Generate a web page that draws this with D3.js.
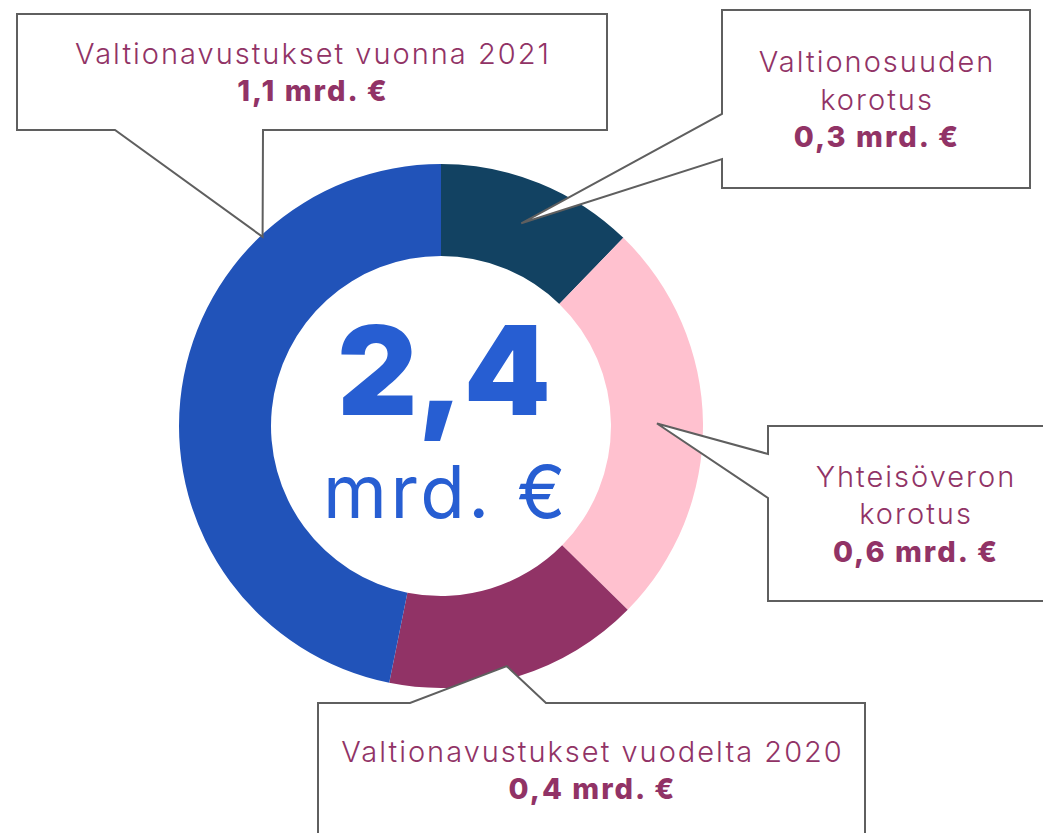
<!DOCTYPE html>
<html>
<head>
<meta charset="utf-8">
<script src="https://cdn.jsdelivr.net/npm/d3@7"></script>
<style>
    body { margin: 0; background: #fff; }
    svg { display: block; font-family: Inter, "Open Sans", sans-serif; }
</style>
</head>
<body>
<div id="donut-area"></div>
<script>

// Slices clockwise from 12 o'clock
var categories = ["Valtionosuuden korotus", "Yhteisöveron korotus", "Valtionavustukset vuodelta 2020", "Valtionavustukset vuonna 2021"];
var labelLines = [["Valtionosuuden", "korotus"], ["Yhteisöveron", "korotus"], ["Valtionavustukset vuodelta 2020"], ["Valtionavustukset vuonna 2021"]];
var values = [0.294, 0.603, 0.379, 1.124];   // mrd. €
var sliceColors = ["#124262", "#FFC1CF", "#913366", "#2153B9"];
var unitLabel = "mrd. €";


/*
 * DonutChart - Object constructor function
 */

DonutChart = function(_parentElement, _data){
    this.parentElement = _parentElement;
    this.data = _data;
    this.displayData = [];

    this.initVis();
}

DonutChart.prototype.initVis = function(){
    var vis = this;

    vis.width = 1043;
    vis.height = 833;
    vis.cx = 441;
    vis.cy = 426;

    vis.svg = d3.select("#" + vis.parentElement).append("svg")
        .attr("width", vis.width)
        .attr("height", vis.height);

    vis.chart = vis.svg.append("g")
        .attr("transform", "translate(" + vis.cx + "," + vis.cy + ")");

    vis.pie = d3.pie()
        .sort(null)
        .value(function(d) { return d.value; });

    vis.arc = d3.arc()
        .innerRadius(170)
        .outerRadius(262);

    // finnish number format, 1 decimal
    vis.fmt = d3.formatLocale({ decimal: ",", thousands: "\u00a0", grouping: [3], currency: ["", " €"] }).format(".1f");

    // callout boxes, same order as the slices
    vis.callouts = [
        { box: [722, 10, 1030, 188], side: "left", joins: [114, 159], tipFrac: 0.49, tipR: 218 },
        { box: [768, 426, 1062, 601], side: "left", joins: [454, 498], tipFrac: 0.5, tipR: 216 },
        { box: [318, 703, 865, 837], side: "top", joins: [410, 546], tipFrac: 0.53, tipR: 249 },
        { box: [17, 14, 607, 130], side: "bottom", joins: [115, 263], tipFrac: 0.743, tipR: 260 }
    ];

    vis.wrangleData();
}

DonutChart.prototype.wrangleData = function(){
    var vis = this;

    vis.displayData = vis.data.map(function(d, i) {
        return { name: d, lines: labelLines[i], value: values[i], color: sliceColors[i] };
    });
    vis.total = d3.sum(values);

    vis.updateVis();
}

DonutChart.prototype.calloutPath = function(c, tip){
    var x0 = c.box[0], y0 = c.box[1], x1 = c.box[2], y1 = c.box[3];
    var p = d3.path();
    if (c.side == "top") {
        p.moveTo(x0, y0); p.lineTo(c.joins[0], y0); p.lineTo(tip[0], tip[1]); p.lineTo(c.joins[1], y0);
        p.lineTo(x1, y0); p.lineTo(x1, y1); p.lineTo(x0, y1);
    } else if (c.side == "left") {
        p.moveTo(x0, y0); p.lineTo(x1, y0); p.lineTo(x1, y1); p.lineTo(x0, y1);
        p.lineTo(x0, c.joins[1]); p.lineTo(tip[0], tip[1]); p.lineTo(x0, c.joins[0]);
    } else {
        p.moveTo(x0, y0); p.lineTo(x1, y0); p.lineTo(x1, y1); p.lineTo(c.joins[1], y1);
        p.lineTo(tip[0], tip[1]); p.lineTo(c.joins[0], y1); p.lineTo(x0, y1);
    }
    p.closePath();
    return p.toString();
}

DonutChart.prototype.updateVis = function(){
    var vis = this;

    var arcs = vis.pie(vis.displayData);

    vis.chart.selectAll(".slice")
        .data(arcs)
        .enter().append("path")
        .attr("class", "slice")
        .attr("d", vis.arc)
        .attr("fill", function(d) { return d.data.color; });

    // centre total
    vis.chart.append("text")
        .attr("x", 3)
        .attr("y", -11)
        .attr("text-anchor", "middle")
        .attr("fill", "#275ED2")
        .style("font-size", "124px")
        .style("font-weight", 900)
        .text(vis.fmt(vis.total));

    vis.chart.append("text")
        .attr("x", 5)
        .attr("y", 92)
        .attr("text-anchor", "middle")
        .attr("fill", "#275ED2")
        .style("font-size", "73px")
        .style("font-weight", 400)
        .style("letter-spacing", "3.5px")
        .text(unitLabel);

    // callouts
    var lh = 37.5;
    arcs.forEach(function(a, i) {
        var c = vis.callouts[i];
        var ang = a.startAngle + c.tipFrac * (a.endAngle - a.startAngle);
        var tip = [vis.cx + c.tipR * Math.sin(ang), vis.cy - c.tipR * Math.cos(ang)];

        var g = vis.svg.append("g").attr("class", "callout");

        g.append("path")
            .attr("d", vis.calloutPath(c, tip))
            .attr("fill", "#fff")
            .attr("stroke", "#5f5f5f")
            .attr("stroke-width", 2);

        var lines = a.data.lines.concat([vis.fmt(a.data.value) + " " + unitLabel]);
        var mx = (c.box[0] + c.box[2]) / 2 + 1;
        var my = (c.box[1] + c.box[3]) / 2;
        var first = my - (lines.length - 1) * lh / 2 + 10.5;

        g.selectAll("text")
            .data(lines)
            .enter().append("text")
            .attr("x", mx)
            .attr("y", function(d, j) { return first + j * lh; })
            .attr("text-anchor", "middle")
            .attr("fill", "#913366")
            .style("font-size", "29px")
            .style("letter-spacing", "2px")
            .style("font-weight", function(d, j) { return j == lines.length - 1 ? 800 : 300; })
            .text(function(d) { return d; });
    });
}

var donut = new DonutChart("donut-area", categories);

</script>
</body>
</html>
